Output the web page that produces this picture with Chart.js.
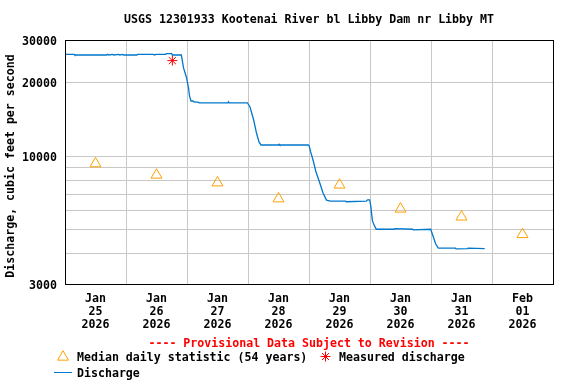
<!DOCTYPE html>
<html>
<head>
<meta charset="utf-8">
<title>USGS 12301933 Kootenai River bl Libby Dam nr Libby MT</title>
<script src="https://cdn.jsdelivr.net/npm/chart.js@4.4.1/dist/chart.umd.min.js"></script>
<style>
    html, body { margin: 0; padding: 0; background: #fff; }
    #wrap { width: 576px; height: 384px; }
</style>
</head>
<body>
<div id="wrap"><canvas id="flowChart" width="576" height="384"></canvas></div>
<script>
// ============================================
// 1. データ (x = days since Jan 25 2026 00:00)
// ============================================

const dayLabels = [
    ['Jan', '25', '2026'], ['Jan', '26', '2026'], ['Jan', '27', '2026'], ['Jan', '28', '2026'],
    ['Jan', '29', '2026'], ['Jan', '30', '2026'], ['Jan', '31', '2026'], ['Feb', '01', '2026']
];
const dayGridTicks = [0, 1, 2, 3, 4, 5, 6, 7, 8];

const yGridTicks = [3000, 4000, 5000, 6000, 7000, 8000, 9000, 10000, 20000, 30000];
const yLabelTicks = [3000, 10000, 20000, 30000];

const medianDays = [0.5, 1.5, 2.5, 3.5, 4.5, 5.5, 6.5, 7.5];
const medianValues = [9340, 8390, 7800, 6710, 7640, 6090, 5650, 4790];

const measuredDays = [1.76];
const measuredValues = [24700];

const dischargeDays = [
    0.00, 0.15, 0.16, 0.68, 0.70, 0.72, 0.78, 0.80, 0.88, 0.90, 0.94, 0.96,
    1.18, 1.19, 1.45, 1.47, 1.49, 1.65, 1.66, 1.75, 1.76, 1.907,
    1.943, 1.989, 2.025, 2.041, 2.066, 2.10, 2.12, 2.18, 2.20, 2.67, 2.68, 2.69, 2.989,
    3.033, 3.093, 3.139, 3.180, 3.213, 3.50, 3.51, 3.52, 3.99,
    4.005, 4.027, 4.066, 4.115, 4.177, 4.23, 4.287, 4.35, 4.60, 4.61, 4.94, 4.96, 4.995,
    5.011, 5.04, 5.074, 5.103, 5.40, 5.41, 5.70, 5.71, 5.995,
    6.033, 6.077, 6.12, 6.40, 6.41, 6.60, 6.61, 6.88
];
const dischargeValues = [
    26200, 26200, 26040, 26040, 26200, 26040, 26200, 26040, 26200, 26040, 26200, 26040,
    26040, 26200, 26200, 26040, 26200, 26200, 26360, 26360, 26040, 26040,
    23050, 21160, 19080, 17690, 16870, 16870, 16700, 16700, 16590, 16590, 16750, 16590, 16590,
    15940, 14100, 12470, 11460, 11140, 11140, 11220, 11140, 11140,
    11000, 10430, 9670, 8630, 7780, 7080, 6620, 6560, 6560, 6520, 6560, 6640, 6640,
    6300, 5440, 5190, 5030, 5030, 5060, 5030, 5000, 5030,
    4720, 4375, 4210, 4210, 4180, 4190, 4210, 4190
];

// ============================================
// 2. スタイル
// ============================================

const FONT_FAMILY = '"DejaVu Sans Mono", "Liberation Mono", monospace';
const FONT_SIZE = 11.6;
const boldFont = { family: FONT_FAMILY, size: FONT_SIZE, weight: 'bold', lineHeight: '13px' };
const GRID_COLOR = '#c8c8c8';
const LINE_BLUE = '#0077cc';
const MEDIAN_ORANGE = '#ffa000';
const MEASURED_RED = '#ff0000';

function toPoints(xs, ys) {
    return xs.map((x, i) => ({ x: x, y: ys[i] }));
}

// ============================================
// 3. 枠・凡例プラグイン
// ============================================

function drawMarker(ctx, style, radius, color, x, y) {
    ctx.save();
    ctx.strokeStyle = color;
    ctx.fillStyle = 'rgba(0,0,0,0)';
    ctx.lineWidth = 1;
    Chart.helpers.drawPoint(ctx, { pointStyle: style, radius: radius, rotation: 0, borderWidth: 1 }, x, y);
    ctx.restore();
}

const usgsDecor = {
    id: 'usgsDecor',
    afterDraw(chart) {
        const { ctx, chartArea } = chart;
        const font = 'bold ' + FONT_SIZE + 'px ' + FONT_FAMILY;

        // plot frame
        ctx.save();
        ctx.strokeStyle = '#000';
        ctx.lineWidth = 1;
        ctx.strokeRect(chartArea.left + 0.5, chartArea.top + 0.5,
            chartArea.right - chartArea.left, chartArea.bottom - chartArea.top);

        ctx.font = font;
        ctx.textBaseline = 'middle';

        // y axis title
        ctx.save();
        ctx.translate(11, 166);
        ctx.rotate(-Math.PI / 2);
        ctx.textAlign = 'center';
        ctx.fillStyle = '#000';
        ctx.fillText('Discharge, cubic feet per second', 0, 0);
        ctx.restore();

        // provisional note
        ctx.textAlign = 'center';
        ctx.fillStyle = MEASURED_RED;
        ctx.fillText('---- Provisional Data Subject to Revision ----', 309, 343.5);

        // legend
        ctx.textAlign = 'left';
        ctx.fillStyle = '#000';
        drawMarker(ctx, 'triangle', 6.3, MEDIAN_ORANGE, 63, 357);
        ctx.fillText('Median daily statistic (54 years)', 77, 357.5);
        drawMarker(ctx, 'star', 5, MEASURED_RED, 325.5, 356.5);
        ctx.fillText('Measured discharge', 339, 357.5);

        ctx.strokeStyle = LINE_BLUE;
        ctx.beginPath();
        ctx.moveTo(54, 372.5);
        ctx.lineTo(72, 372.5);
        ctx.stroke();
        ctx.fillText('Discharge', 77, 373.5);
        ctx.restore();
    }
};

// ============================================
// 4. チャート
// ============================================

const flowChart = new Chart(document.getElementById('flowChart').getContext('2d'), {
    data: {
        datasets: [
            {
                type: 'scatter',
                label: 'Median daily statistic (54 years)',
                data: toPoints(medianDays, medianValues),
                pointStyle: 'triangle',
                pointRadius: 6.3,
                borderColor: MEDIAN_ORANGE,
                backgroundColor: 'rgba(0,0,0,0)',
                borderWidth: 1,
                order: 1
            },
            {
                type: 'scatter',
                label: 'Measured discharge',
                data: toPoints(measuredDays, measuredValues),
                pointStyle: 'star',
                pointRadius: 5,
                borderColor: MEASURED_RED,
                backgroundColor: MEASURED_RED,
                borderWidth: 1,
                order: 0
            },
            {
                type: 'line',
                label: 'Discharge',
                data: toPoints(dischargeDays, dischargeValues),
                borderColor: LINE_BLUE,
                borderWidth: 1.3,
                pointRadius: 0,
                tension: 0,
                fill: false,
                order: 2
            }
        ]
    },
    options: {
        responsive: false,
        animation: false,
        devicePixelRatio: 1,
        layout: { padding: { left: 0, right: 23, top: 0, bottom: 0 } },
        plugins: {
            legend: { display: false },
            tooltip: { enabled: false },
            title: {
                display: true,
                fullSize: false,
                text: 'USGS 12301933 Kootenai River bl Libby Dam nr Libby MT',
                color: '#000',
                font: boldFont,
                padding: { top: 13, bottom: 14 }
            }
        },
        scales: {
            x: {
                type: 'linear',
                min: 0,
                max: 8,
                afterBuildTicks: (scale) => {
                    scale.ticks = dayGridTicks.map(v => ({ value: v }));
                },
                afterFit: (scale) => { scale.height = 100; },
                ticks: {
                    autoSkip: false,
                    maxRotation: 0,
                    labelOffset: 30.5,
                    padding: 8.5,
                    color: '#000',
                    font: boldFont,
                    callback: (value) => dayLabels[value] || ''
                },
                grid: { color: GRID_COLOR, lineWidth: 1, drawTicks: false },
                border: { display: false }
            },
            y: {
                type: 'logarithmic',
                min: 3000,
                max: 30000,
                afterBuildTicks: (scale) => {
                    scale.ticks = yGridTicks.map(v => ({ value: v }));
                },
                afterFit: (scale) => { scale.width = 65; },
                ticks: {
                    autoSkip: false,
                    padding: 8,
                    labelOffset: 1.5,
                    color: '#000',
                    font: boldFont,
                    callback: (value) => yLabelTicks.includes(value) ? String(value) : ''
                },
                grid: { color: GRID_COLOR, lineWidth: 1, drawTicks: false },
                border: { display: false }
            }
        }
    },
    plugins: [usgsDecor]
});
</script>
</body>
</html>
